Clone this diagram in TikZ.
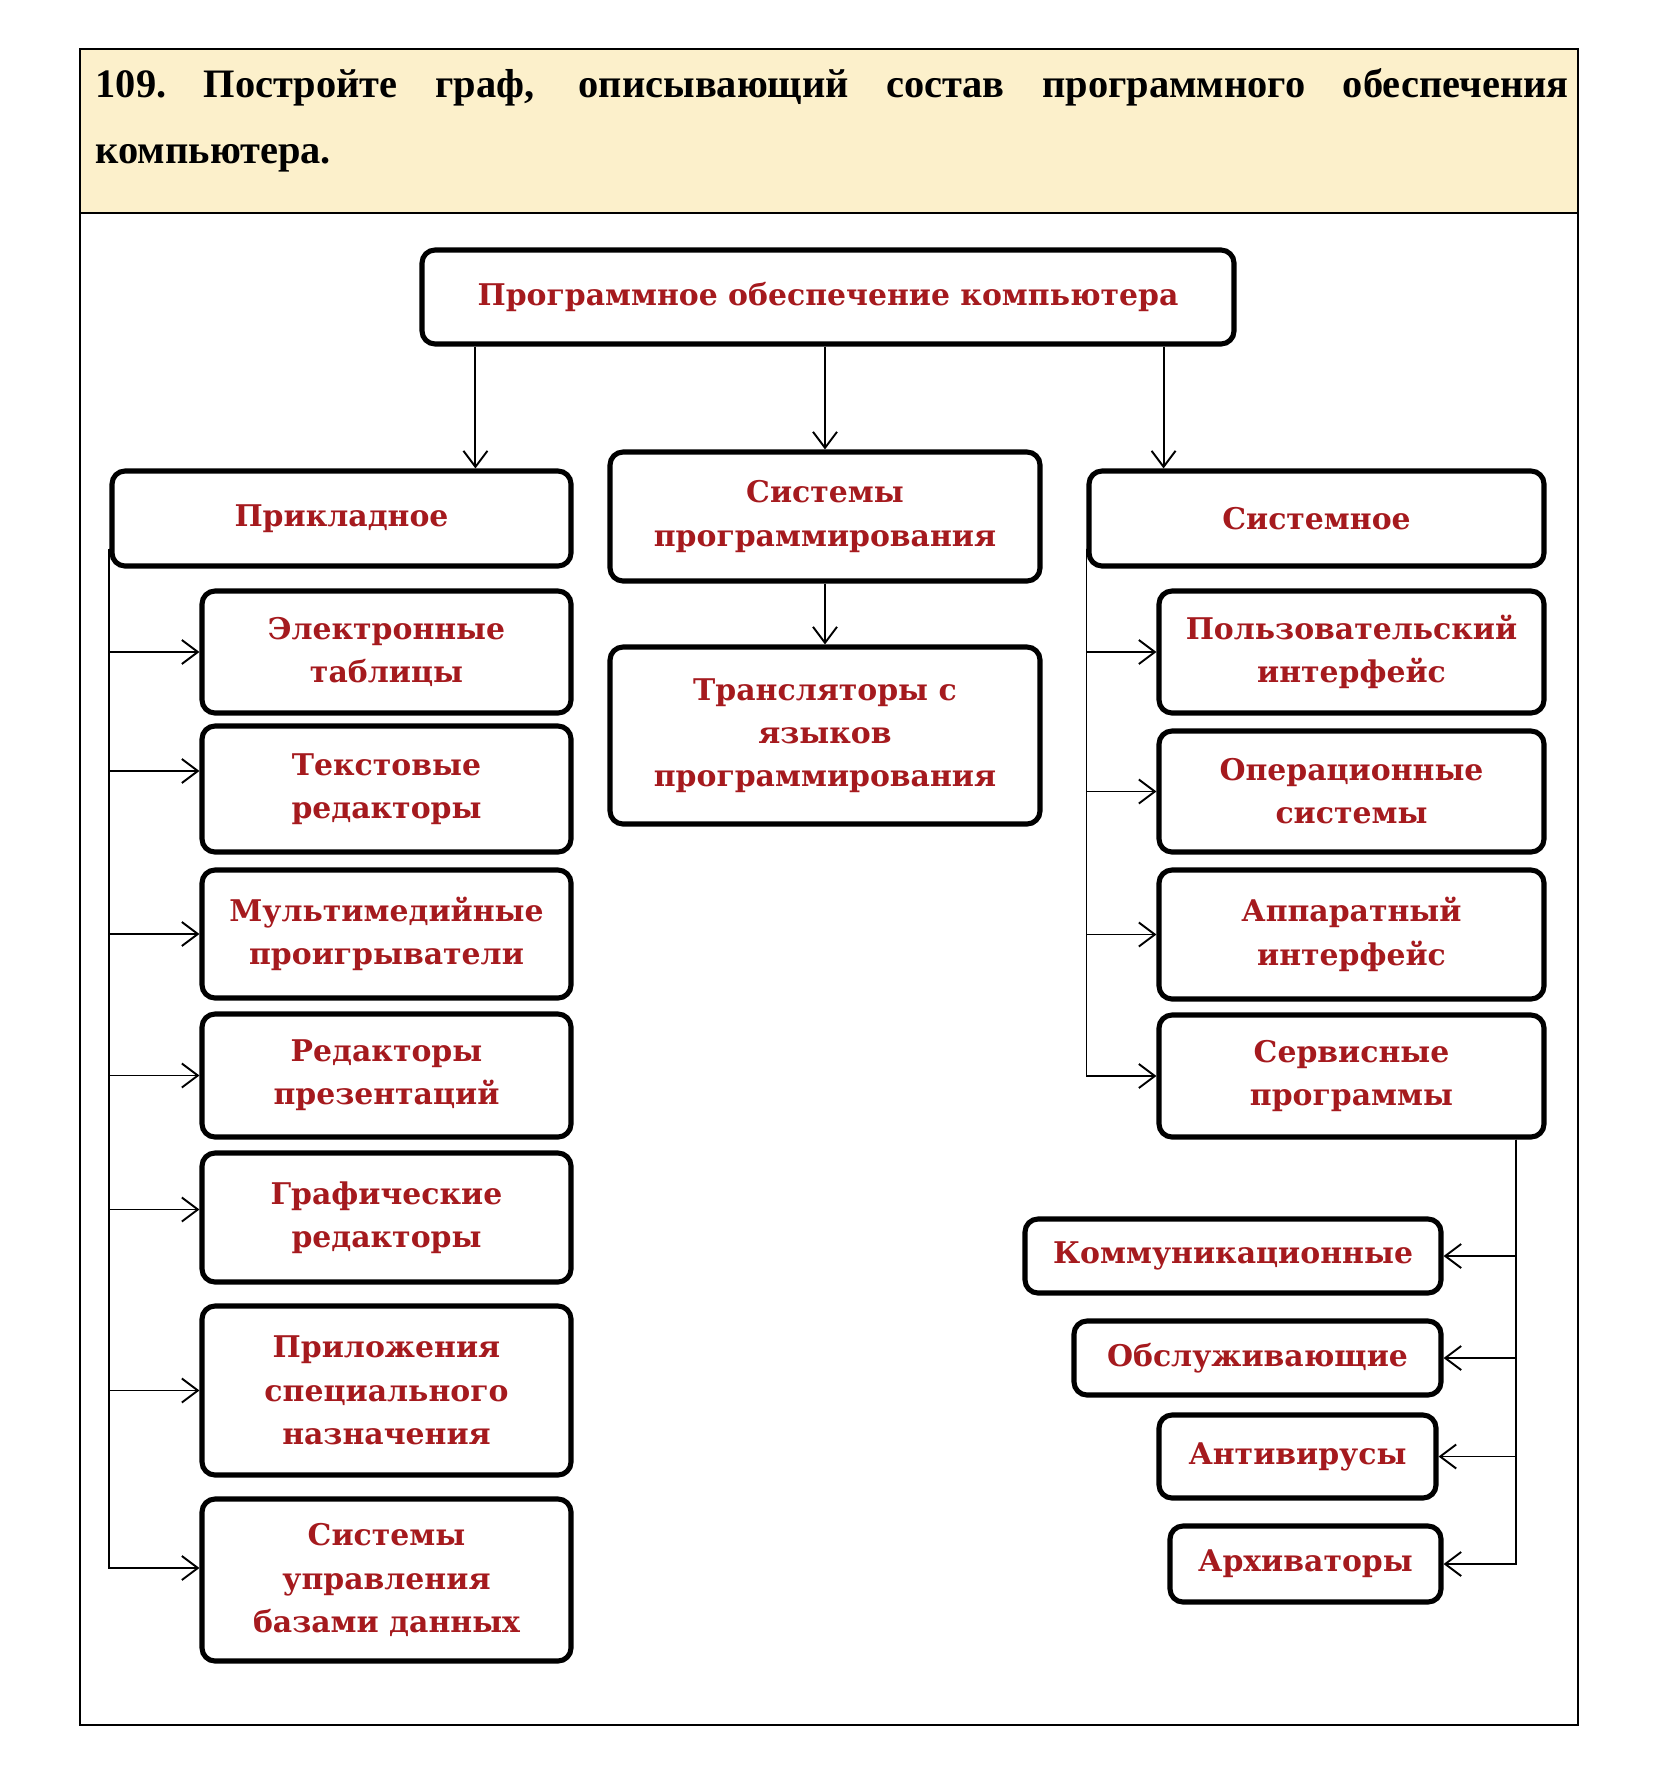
\documentclass[tikz,border=0pt]{standalone}
\usepackage{fontspec}
\setmainfont{DejaVu Serif}
\newfontfamily\zagfont{Liberation Serif}
\usetikzlibrary{arrows.meta}
\definecolor{krasn}{RGB}{165,26,30}
\definecolor{zagfon}{RGB}{252,240,203}
\tikzset{
  blok/.style={draw, line width=1.45pt, rounded corners=1.3mm, align=center, text=krasn,
    font=\bfseries\fontsize{8.5}{12.3}\selectfont, inner sep=0pt},
  strel/.style={-{Straight Barb[length=1.6mm,width=2.4mm]}, line width=0.55pt},
  zag/.style={anchor=base west, inner sep=0pt, font=\zagfont\bfseries\fontsize{11.5}{14}\selectfont}
}
\begin{document}
\begin{tikzpicture}
  \useasboundingbox (0,0) rectangle (16.54,-17.90);
  % task header
  \fill[zagfon] (0.80,-0.49) rectangle (15.78,-2.13);
  \draw[line width=0.8pt] (0.80,-0.49) rectangle (15.78,-17.25);
  \draw[line width=0.8pt] (0.80,-2.13) -- (15.78,-2.13);
  \node[zag] (zad1) at (0.95,-0.98) {\makebox[14.73cm][s]{109.\ Постройте граф, описывающий состав программного обеспечения}};
  \node[zag] (zad2) at (0.95,-1.64) {компьютера.};
  % top level
  \node[blok, minimum width=8.12cm, minimum height=0.94cm] (pok) at (8.28,-2.97) {Программное обеспечение компьютера};
  \node[blok, minimum width=4.59cm, minimum height=0.95cm] (prikl) at (3.415,-5.185) {Прикладное};
  \node[blok, minimum width=4.30cm, minimum height=1.29cm] (sysprog) at (8.25,-5.165) {Системы\\программирования};
  \node[blok, minimum width=4.55cm, minimum height=0.95cm] (sistem) at (13.165,-5.185) {Системное};
  \node[blok, minimum width=4.30cm, minimum height=1.77cm] (transl) at (8.25,-7.355) {Трансляторы с\\языков\\программирования};
  \draw[strel] ([xshift=5.6mm]pok.south west) -- ([xshift=5.6mm]pok.south west |- prikl.north);
  \draw[strel] (pok.south -| sysprog.north) -- (sysprog.north);
  \draw[strel] ([xshift=-7.3mm]pok.south east) -- ([xshift=-7.3mm]pok.south east |- sistem.north);
  \draw[strel] (sysprog.south) -- (transl.north);
  % application software
  \begin{scope}[every node/.append style={minimum width=3.69cm}]
    \node[blok, minimum height=1.22cm] (el) at (3.865,-6.52) {Электронные\\таблицы};
    \node[blok, minimum height=1.26cm] (tekst) at (3.865,-7.89) {Текстовые\\редакторы};
    \node[blok, minimum height=1.28cm] (multi) at (3.865,-9.34) {Мультимедийные\\проигрыватели};
    \node[blok, minimum height=1.23cm] (prez) at (3.865,-10.755) {Редакторы\\презентаций};
    \node[blok, minimum height=1.29cm] (graf) at (3.865,-12.175) {Графические\\редакторы};
    \node[blok, minimum height=1.69cm] (pril) at (3.865,-13.905) {Приложения\\специального\\назначения};
    \node[blok, minimum height=1.62cm] (subd) at (3.865,-15.80) {Системы\\управления\\базами данных};
  \end{scope}
  \foreach \n/\dy in {el/0,tekst/1.8,multi/0,prez/0,graf/0.8,pril/0,subd/1.2}
    \draw[strel] ([yshift=2mm]prikl.south west) |- ([yshift=\dy mm]\n.west);
  % system software
  \begin{scope}[every node/.append style={minimum width=3.85cm}]
    \node[blok, minimum height=1.22cm] (polz) at (13.515,-6.52) {Пользовательский\\интерфейс};
    \node[blok, minimum height=1.21cm] (oper) at (13.515,-7.915) {Операционные\\системы};
    \node[blok, minimum height=1.29cm] (appar) at (13.515,-9.345) {Аппаратный\\интерфейс};
    \node[blok, minimum height=1.22cm] (serv) at (13.515,-10.76) {Сервисные\\программы};
  \end{scope}
  \foreach \n in {polz,oper,appar,serv}
    \draw[strel] ([yshift=2mm]sistem.south west) |- (\n.west);
  % service programs
  \node[blok, minimum width=4.16cm, minimum height=0.74cm] (komm) at (12.33,-12.56) {Коммуникационные};
  \node[blok, minimum width=3.67cm, minimum height=0.74cm] (obsl) at (12.575,-13.58) {Обслуживающие};
  \node[blok, minimum width=2.77cm, minimum height=0.83cm] (anti) at (12.975,-14.565) {Антивирусы};
  \node[blok, minimum width=2.71cm, minimum height=0.76cm] (arch) at (13.055,-15.64) {Архиваторы};
  \foreach \n in {komm,obsl,anti,arch}
    \draw[strel] ([xshift=-3.1mm]serv.south east) |- (\n.east);
\end{tikzpicture}
\end{document}
